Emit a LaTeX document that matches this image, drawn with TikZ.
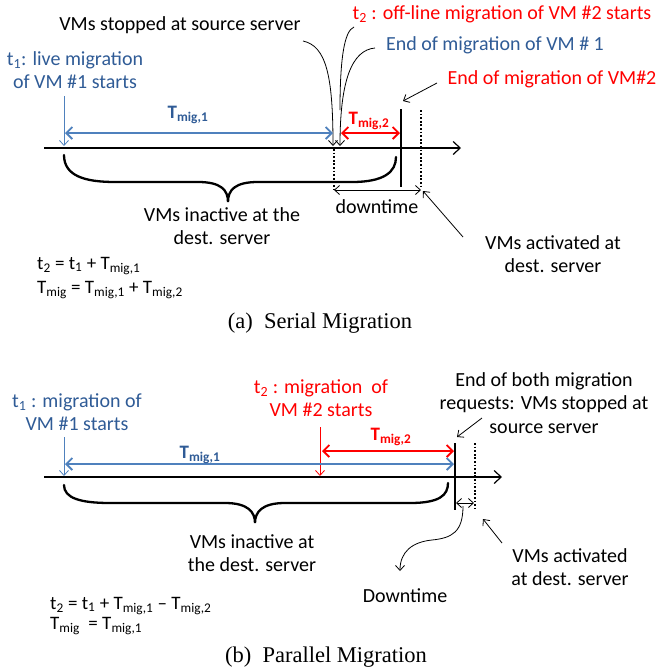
\documentclass[tikz,border=0pt]{standalone}
\usepackage{fontspec}
\setmainfont{Carlito}
\newfontfamily\capfont{Liberation Serif}
\usetikzlibrary{arrows.meta}
\definecolor{txtblue}{HTML}{2F5B96}
\definecolor{lineblue}{HTML}{4F81BD}
\definecolor{vred}{HTML}{FF0000}
\newcommand{\sbs}[1]{\textsubscript{#1}}

\begin{document}
\begin{tikzpicture}[x=1pt,y=-1pt,
  lbl/.style={inner sep=0pt, font=\fontsize{20}{23.5}\selectfont, align=center},
  formula/.style={inner sep=0pt, font=\fontsize{19}{23}\selectfont, anchor=west, align=left},
  durlbl/.style={inner sep=0pt, font=\bfseries\fontsize{19}{23}\selectfont},
  caption/.style={inner sep=0pt, font=\capfont\fontsize{22.5}{26}\selectfont},
  axis/.style={line width=1.4pt, -{Straight Barb[length=7pt,width=13pt,line width=1.2pt]}},
  pointer/.style={line width=0.8pt, -{Straight Barb[length=5pt,width=9pt,line width=0.8pt]}},
  span/.style={line width=2.2pt, {Straight Barb[length=6pt,width=12pt,line width=1.8pt]}-{Straight Barb[length=6pt,width=12pt,line width=1.8pt]}},
  gap/.style={line width=0.8pt, {Straight Barb[length=5pt,width=9pt,line width=0.8pt]}-{Straight Barb[length=5pt,width=9pt,line width=0.8pt]}},
  solidmark/.style={line width=1.4pt},
  dotmark/.style={line width=1.8pt, dash pattern=on 1.8pt off 1.8pt},
  bracepath/.style={line width=2.3pt, line cap=round},
]
\useasboundingbox (0,0) rectangle (657,670);

% ===================== (a) Serial migration =====================
\coordinate (a0) at (44,148);
\coordinate (a1) at (461,148);
\draw[axis] (a0) -- (a1);

% labels
\node[lbl] (stop) at (180,25) {VMs stopped at source server};
\node[lbl, text=txtblue] (t1a) at (75,70) {t\sbs{1}: live migration\\of VM \#1 starts};
\node[lbl, text=vred] (t2a) at (502,14) {t\sbs{2} : off-line migration of VM \#2 starts};
\node[lbl, text=txtblue] (end1) at (495,45) {End of migration of VM \# 1};
\node[lbl, text=vred] (end2) at (552,79) {End of migration of VM\#2};

% time marks
\coordinate (a_t1top) at (64,96);
\coordinate (a_t1) at (64,146);
\draw[pointer, lineblue] (a_t1top) -- (a_t1);

\coordinate (a_m1) at (333,146);
\coordinate (a_m2) at (340,146);
\coordinate (a_stopstart) at (303,41);
\coordinate (a_t2start) at (354,27);
\coordinate (a_e1start) at (375,48);
\draw[pointer] (a_stopstart) .. controls (326,46) and (333,75) .. (a_m1);
\draw[line width=0.8pt] (a_t2start) .. controls (344,31) and (340,60) .. (340,110);
\draw[pointer] (a_e1start) .. controls (352,50) and (340,80) .. (a_m2);

% durations
\coordinate (a_s1) at (65,133);
\coordinate (a_s2) at (333,133);
\coordinate (a_s3) at (341,133);
\coordinate (a_s4) at (400,133);
\draw[span, lineblue] (a_s1) -- (a_s2);
\draw[span, vred] (a_s3) -- (a_s4);
\node[durlbl, text=txtblue] (a_tm1) at (188,115) {T\sbs{mig,1}};
\node[durlbl, text=vred] (a_tm2) at (369,121) {T\sbs{mig,2}};

% end of migration and activation marks
\coordinate (a_endtop) at (401,109);
\coordinate (a_endbot) at (401,187);
\draw[solidmark] (a_endtop) -- (a_endbot);
\coordinate (a_acttop) at (421,110);
\coordinate (a_actbot) at (421,189);
\draw[dotmark] (a_acttop) -- (a_actbot);
\coordinate (a_stoptop) at (334,149);
\coordinate (a_stopbot) at (334,189);
\draw[dotmark] (a_stoptop) -- (a_stopbot);

\coordinate (a_end2tail) at (437,83);
\coordinate (a_end2head) at (403,101);
\draw[pointer] (a_end2tail) -- (a_end2head);

% downtime
\coordinate (a_d1) at (334,190);
\coordinate (a_d2) at (421,190);
\draw[gap] (a_d1) -- (a_d2);
\node[lbl] (a_down) at (377,207) {downtime};

\node[lbl] (a_act) at (553,254) {VMs activated at\\dest. server};
\coordinate (a_acttail) at (463,237);
\coordinate (a_acthead) at (423,191);
\draw[pointer] (a_acttail) -- (a_acthead);

% inactive period
\draw[bracepath] (64,155) .. controls (64,176) and (85,182) .. (115,182) -- (198,182)
  .. controls (221,182) and (228,190) .. (228,202)
  .. controls (228,190) and (235,182) .. (258,182) -- (352,182)
  .. controls (384,182) and (396,172) .. (396,157);
\node[lbl] (a_inact) at (222,226) {VMs inactive at the\\dest. server};

\node[formula] (a_f1) at (37,266) {t\sbs{2} = t\sbs{1} + T\sbs{mig,1}};
\node[formula] (a_f2) at (37,290) {T\sbs{mig} = T\sbs{mig,1} + T\sbs{mig,2}};

\node[caption] (capa) at (320,323) {(a)\ \ Serial Migration};

% ===================== (b) Parallel migration =====================
\coordinate (b0) at (44,477);
\coordinate (b1) at (502,477);
\draw[axis] (b0) -- (b1);

\node[lbl, text=txtblue] (t1b) at (77,412) {t\sbs{1} : migration of\\VM \#1 starts};
\node[lbl, text=vred] (t2b) at (321,398) {t\sbs{2} : migration\ \ of\\VM \#2 starts};
\node[lbl] (endb) at (544,403) {End of both migration\\requests: VMs stopped at\\source server};

\coordinate (b_t1top) at (64,437);
\coordinate (b_t1) at (64,476);
\draw[pointer, lineblue] (b_t1top) -- (b_t1);
\coordinate (b_t2top) at (320,427);
\coordinate (b_t2) at (320,476);
\draw[pointer, vred] (b_t2top) -- (b_t2);

\coordinate (b_s1) at (65,464);
\coordinate (b_s2) at (454,464);
\coordinate (b_s3) at (322,451);
\coordinate (b_s4) at (454,451);
\draw[span, lineblue] (b_s1) -- (b_s2);
\draw[span, vred] (b_s3) -- (b_s4);
\node[durlbl, text=txtblue] (b_tm1) at (200,455) {T\sbs{mig,1}};
\node[durlbl, text=vred] (b_tm2) at (391,437) {T\sbs{mig,2}};

\coordinate (b_endtop) at (455,443);
\coordinate (b_endbot) at (455,510);
\draw[solidmark] (b_endtop) -- (b_endbot);
\coordinate (b_acttop) at (475,443);
\coordinate (b_actbot) at (475,508);
\draw[dotmark] (b_acttop) -- (b_actbot);

\coordinate (b_endtail) at (482,418);
\coordinate (b_endhead) at (457,437);
\draw[pointer] (b_endtail) -- (b_endhead);

\coordinate (b_d1) at (456,503);
\coordinate (b_d2) at (474,503);
\draw[gap] (b_d1) -- (b_d2);

\node[lbl] (b_down) at (405,596) {Downtime};
\coordinate (b_dstart) at (463,506);
\coordinate (b_dhead) at (400,571);
\draw[pointer] (b_dstart) .. controls (463,532) and (452,538) .. (432,540)
  .. controls (412,542) and (400,552) .. (b_dhead);

\node[lbl] (b_act) at (570,567) {VMs activated\\at dest. server};
\coordinate (b_acttail) at (502,543);
\coordinate (b_acthead) at (483,519);
\draw[pointer] (b_acttail) -- (b_acthead);

\draw[bracepath] (64,485) .. controls (64,498) and (80,503) .. (110,503) -- (225,503)
  .. controls (248,503) and (255,512) .. (255,523)
  .. controls (255,512) and (262,503) .. (285,503) -- (410,503)
  .. controls (440,503) and (448,495) .. (448,483);
\node[lbl] (b_inact) at (252,553) {VMs inactive at\\the dest. server};

\node[formula] (b_f1) at (50,606) {t\sbs{2} = t\sbs{1} + T\sbs{mig,1} -- T\sbs{mig,2}};
\node[formula] (b_f2) at (50,626) {T\sbs{mig}\ \ = T\sbs{mig,1}};

\node[caption] (capb) at (326,657) {(b)\ \ Parallel Migration};
\end{tikzpicture}
\end{document}
